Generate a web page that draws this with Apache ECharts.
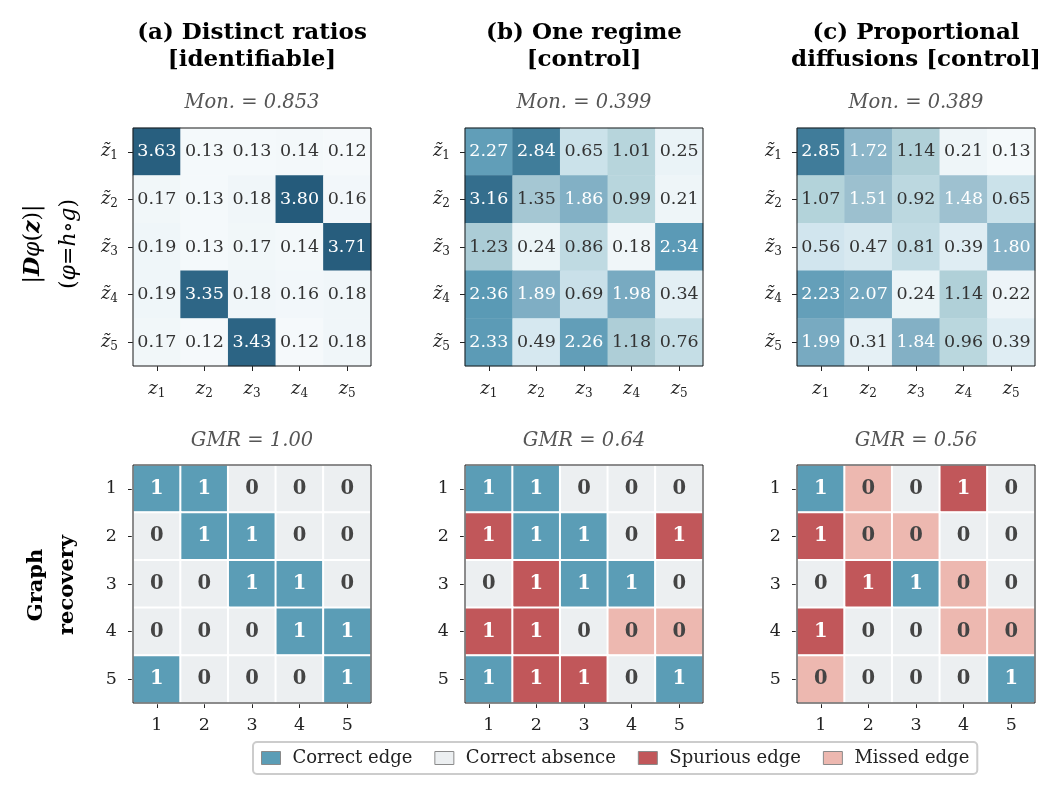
<!DOCTYPE html>
<html>
<head>
<meta charset="utf-8">
<script src="https://cdn.jsdelivr.net/npm/echarts@6/dist/echarts.min.js"></script>
<style>html,body{margin:0;background:#fff}#chart{width:1064px;height:795px}</style>
</head>
<body>
<div id="chart"></div>
<script>
// tick labels / categories
const nodes = ['1', '2', '3', '4', '5'];
const panelTitles = ['(a) Distinct ratios\n[identifiable]', '(b) One regime\n[control]', '(c) Proportional\ndiffusions [control]'];
const monScores = ['0.853', '0.399', '0.389'];
const gmrScores = ['1.00', '0.64', '0.56'];
const statusNames = ['Correct edge', 'Correct absence', 'Spurious edge', 'Missed edge'];
const statusColors = ['#5b9db6', '#eceff1', '#c1575a', '#edb8b0'];

// |D phi(z)| matrices, rows = z~i, cols = zj
const jacA = [
  [3.63, 0.13, 0.13, 0.14, 0.12],
  [0.17, 0.13, 0.18, 3.80, 0.16],
  [0.19, 0.13, 0.17, 0.14, 3.71],
  [0.19, 3.35, 0.18, 0.16, 0.18],
  [0.17, 0.12, 3.43, 0.12, 0.18]
];
const jacB = [
  [2.27, 2.84, 0.65, 1.01, 0.25],
  [3.16, 1.35, 1.86, 0.99, 0.21],
  [1.23, 0.24, 0.86, 0.18, 2.34],
  [2.36, 1.89, 0.69, 1.98, 0.34],
  [2.33, 0.49, 2.26, 1.18, 0.76]
];
const jacC = [
  [2.85, 1.72, 1.14, 0.21, 0.13],
  [1.07, 1.51, 0.92, 1.48, 0.65],
  [0.56, 0.47, 0.81, 0.39, 1.80],
  [2.23, 2.07, 0.24, 1.14, 0.22],
  [1.99, 0.31, 1.84, 0.96, 0.39]
];

// graphs
const trueGraph = [
  [1, 1, 0, 0, 0],
  [0, 1, 1, 0, 0],
  [0, 0, 1, 1, 0],
  [0, 0, 0, 1, 1],
  [1, 0, 0, 0, 1]
];
const predA = [
  [1, 1, 0, 0, 0],
  [0, 1, 1, 0, 0],
  [0, 0, 1, 1, 0],
  [0, 0, 0, 1, 1],
  [1, 0, 0, 0, 1]
];
const predB = [
  [1, 1, 0, 0, 0],
  [1, 1, 1, 0, 1],
  [0, 1, 1, 1, 0],
  [1, 1, 0, 0, 0],
  [1, 1, 1, 0, 1]
];
const predC = [
  [1, 0, 0, 1, 0],
  [1, 0, 0, 0, 0],
  [0, 1, 1, 0, 0],
  [1, 0, 0, 0, 0],
  [0, 0, 0, 0, 1]
];

const FONT = 'DejaVu Serif';
const jacs = [jacA, jacB, jacC];
const preds = [predA, predB, predC];
const colLeft = [133, 465, 797];
const box = 238;
const rowTop = [128, 465];

// 0 correct edge, 1 correct absence, 2 spurious, 3 missed
function status(p, t) {
  if (p && t) return 0;
  if (!p && !t) return 1;
  if (p && !t) return 2;
  return 3;
}

const grids = [], xAxes = [], yAxes = [], series = [], graphics = [];

const tickRich = {
  i: { fontStyle: 'italic', fontSize: 18, fontFamily: FONT, color: '#222' },
  s: { fontSize: 12, fontFamily: FONT, color: '#222', padding: [9, 0, 0, 0] }
};

for (let r = 0; r < 2; r++) {
  for (let c = 0; c < 3; c++) {
    const gi = r * 3 + c;
    grids.push({
      left: colLeft[c], top: rowTop[r], width: box, height: box,
      show: true, borderColor: '#1a1a1a', borderWidth: 1, z: 10,
      backgroundColor: 'transparent'
    });
    xAxes.push({
      type: 'category', gridIndex: gi, data: nodes, position: 'bottom',
      axisLine: { show: false },
      axisTick: { show: true, alignWithLabel: true, length: 5, lineStyle: { color: '#222' } },
      axisLabel: {
        interval: 0, margin: r === 0 ? 13 : 13, color: '#222', fontFamily: FONT, fontSize: 17.5,
        formatter: r === 0 ? (v => '{i|z}{s|' + v + '}') : (v => v),
        rich: tickRich
      },
      splitLine: { show: false }
    });
    yAxes.push({
      type: 'category', gridIndex: gi, data: nodes, inverse: true,
      axisLine: { show: false },
      axisTick: { show: true, alignWithLabel: true, length: 5, lineStyle: { color: '#222' } },
      axisLabel: {
        interval: 0, margin: r === 0 ? 15 : 16, color: '#222', fontFamily: FONT, fontSize: 17.5,
        formatter: r === 0 ? (v => '{i|z\u0303}{s|' + v + '}') : (v => v),
        rich: tickRich
      },
      splitLine: { show: false }
    });

    if (r === 0) {
      const m = jacs[c];
      const data = [];
      m.forEach((row, i) => row.forEach((v, j) => {
        data.push({ value: [j, i, v], label: { color: v > 1.45 ? '#ffffff' : '#333333' } });
      }));
      series.push({
        type: 'heatmap', xAxisIndex: gi, yAxisIndex: gi, data: data,
        label: { show: true, fontFamily: FONT, fontSize: 17.5, formatter: p => p.value[2].toFixed(2) },
        itemStyle: { borderWidth: 0 },
        emphasis: { disabled: true }
      });
      graphics.push({
        type: 'text', x: colLeft[c] + box / 2, y: 47,
        style: { text: panelTitles[c], fontFamily: FONT, fontSize: 23, fontWeight: 'bold', fill: '#000',
          align: 'center', verticalAlign: 'middle', lineHeight: 27 }
      });
      graphics.push({
        type: 'text', x: colLeft[c] + box / 2, y: 103,
        style: { text: 'Mon. = ' + monScores[c], fontFamily: FONT, fontSize: 19.5, fontStyle: 'italic', fill: '#555',
          align: 'center', verticalAlign: 'middle' }
      });
    } else {
      const p = preds[c];
      const data = [];
      p.forEach((row, i) => row.forEach((v, j) => {
        data.push({ value: [j, i, v, status(v, trueGraph[i][j])], label: { color: v ? '#ffffff' : '#444444' } });
      }));
      series.push({
        type: 'heatmap', xAxisIndex: gi, yAxisIndex: gi, data: data,
        label: { show: true, fontFamily: FONT, fontSize: 19.5, fontWeight: 'bold', formatter: q => String(q.value[2]) },
        itemStyle: { borderColor: '#ffffff', borderWidth: 2 },
        emphasis: { disabled: true }
      });
      graphics.push({
        type: 'text', x: colLeft[c] + box / 2, y: 441,
        style: { text: 'GMR = ' + gmrScores[c], fontFamily: FONT, fontSize: 19.5, fontStyle: 'italic', fill: '#555',
          align: 'center', verticalAlign: 'middle' }
      });
    }
  }
}

// row titles (rotated)
const rowRich = {
  n: { fontFamily: FONT, fontSize: 22, fill: '#000', lineHeight: 36 },
  i: { fontFamily: FONT, fontSize: 22, fontStyle: 'italic', fill: '#000', lineHeight: 36 },
  bi: { fontFamily: FONT, fontSize: 22, fontStyle: 'italic', fontWeight: 'bold', fill: '#000', lineHeight: 36 }
};
graphics.push({
  type: 'text', x: 51, y: 244, rotation: Math.PI / 2,
  style: {
    text: '{n||}{bi|D}{i|\u03C6}{n|(}{bi|z}{n|)|}\n{n|(}{i|\u03C6}{n|=}{i|h}{n|\u2218}{i|g}{n|)}',
    rich: rowRich, fontFamily: FONT, fontSize: 22, fill: '#000', lineHeight: 36,
    align: 'center', verticalAlign: 'middle'
  }
});
graphics.push({
  type: 'text', x: 52, y: 585, rotation: Math.PI / 2,
  style: {
    text: 'Graph\nrecovery', fontFamily: FONT, fontSize: 21, fontWeight: 'bold', fill: '#000', lineHeight: 31,
    align: 'center', verticalAlign: 'middle'
  }
});

// legend proxies
statusNames.forEach((n, k) => {
  series.push({ type: 'scatter', name: n, data: [], xAxisIndex: 3, yAxisIndex: 3,
    itemStyle: { color: statusColors[k], opacity: 1 } });
});

const option = {
  animation: false,
  backgroundColor: '#fff',
  grid: grids,
  xAxis: xAxes,
  yAxis: yAxes,
  visualMap: [
    {
      type: 'continuous', show: false, seriesIndex: [0, 1, 2], dimension: 2,
      min: 0.12, max: 3.8,
      inRange: { color: ['#f5f9fb', '#cfe4ed', '#b5d4db', '#9dc0cf', '#7aabc2', '#5597b3', '#3e7a98', '#2e6686', '#255b7b'] }
    },
    {
      type: 'piecewise', show: false, seriesIndex: [3, 4, 5], dimension: 3,
      pieces: statusColors.map((col, k) => ({ value: k, color: col }))
    }
  ],
  legend: {
    left: 253, top: 742, orient: 'horizontal', icon: 'rect',
    itemWidth: 19, itemHeight: 13, itemGap: 22,
    padding: [7, 8, 7, 8], borderColor: '#cccccc', borderWidth: 2, borderRadius: 4,
    textStyle: { fontFamily: FONT, fontSize: 18, color: '#222', padding: [0, 0, 0, 7] },
    itemStyle: { borderColor: '#8a8a8a', borderWidth: 1 },
    selectedMode: false,
    data: statusNames
  },
  graphic: graphics,
  series: series
};

const chart = echarts.init(document.getElementById('chart'), null, { renderer: 'canvas' });
chart.setOption(option);
</script>
</body>
</html>
